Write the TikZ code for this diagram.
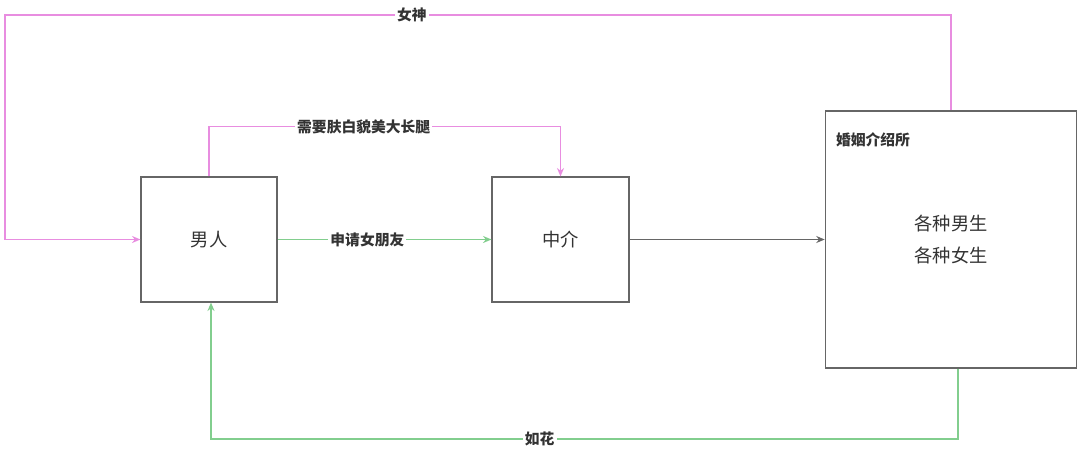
\documentclass[tikz,border=0pt]{standalone}
\usepackage{fontspec}
\setmainfont{Noto Sans CJK SC}
\usepackage{xcolor}
\usetikzlibrary{positioning,arrows.meta,calc}
\definecolor{agencypink}{HTML}{E88DE0}
\definecolor{agencygreen}{HTML}{82CE8E}
\definecolor{boxgray}{HTML}{666666}
\definecolor{txtgray}{HTML}{333333}

\tikzset{
  box/.style={draw=boxgray,line width=1.1pt,text=txtgray,font=\fontsize{13}{15}\selectfont,inner sep=0pt},
  lbl/.style={fill=white,inner sep=1.5pt,text=txtgray,font=\fontsize{10.5}{12}\selectfont\bfseries},
  link/.style={line width=1.1pt,-{Stealth[length=6pt,width=5pt]}},
}

\begin{document}
\begin{tikzpicture}[x=0.025cm,y=-0.025cm]
    \useasboundingbox (0,0) rectangle (1080,454);
    \node[box,minimum width=136*0.7087pt,minimum height=125*0.7087pt] (man) at (209,239.5) {男人};
    \node[box,minimum width=137*0.7087pt,minimum height=125*0.7087pt] (agent) at (560.5,239.5) {中介};
    \node[box,minimum width=252*0.7087pt,minimum height=258*0.7087pt,align=center,
          font=\fontsize{13}{22.7}\selectfont] (hub) at (951,239.5) {各种男生\\各种女生};
    \node[lbl,anchor=west] (hubtitle) at ($(hub.north west)+(9,30)$) {婚姻介绍所};
    % links
    \draw[link,agencypink] (man.north) -- ++(0,-50) -| node[lbl,pos=0.22]{需要肤白貌美大长腿} (agent.north);
    \draw[link,agencygreen] (man.east) -- node[lbl,pos=0.42]{申请女朋友} (agent.west);
    \draw[link,boxgray] (agent.east) -- (agent.east -| hub.west);
    \coordinate (farleft) at (5,15);
    \draw[link,agencypink] (hub.north) |- node[lbl,pos=0.785]{女神} (farleft) |- (man.west);
    \draw[link,agencygreen] ($(hub.south)+(7,0)$) -- ++(0,70) -| node[lbl,pos=0.28]{如花} ($(man.south)+(2,0)$);
\end{tikzpicture}
\end{document}
